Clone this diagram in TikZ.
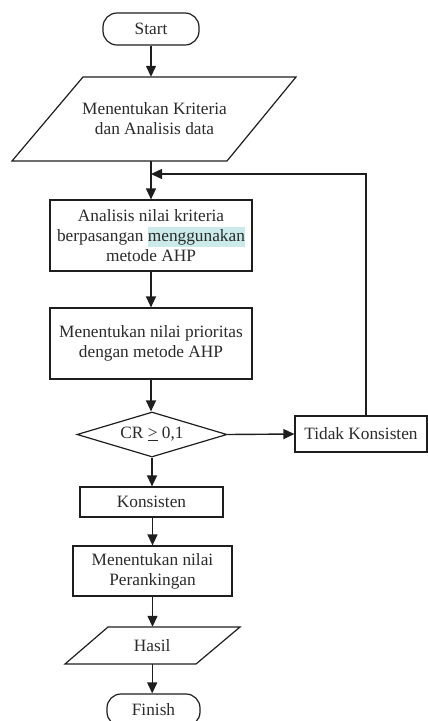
\documentclass[tikz,border=0pt]{standalone}
\usepackage{fontspec}
\setmainfont{Liberation Serif}
\usetikzlibrary{arrows.meta,shapes.geometric}
\definecolor{ln}{HTML}{1E1E1E}
\definecolor{tx}{HTML}{2A2A2A}
\definecolor{hl}{HTML}{CBEBEB}
\setlength{\fboxsep}{0pt}
\begin{document}
\begin{tikzpicture}[x=1pt,y=-1pt,
  every node/.style={font=\fontsize{17.3}{20}\selectfont, text=tx, align=center, inner sep=0pt},
  box/.style={draw=ln, line width=1.2pt, rectangle},
  term/.style={draw=ln, line width=1.2pt, rectangle, rounded corners=14pt, minimum height=32pt},
  dec/.style={draw=ln, line width=1.2pt, diamond, aspect=3.3, minimum width=150pt, minimum height=45pt},
  arr/.style={draw=ln, line width=1.4pt, -{Triangle[length=11pt,width=10pt]}},
  shp/.style={draw=ln, line width=1.2pt}]
\useasboundingbox (0,0) rectangle (428,721);

% shapes drawn directly (parallelograms)
\draw[shp] (83,77) -- (296,77) -- (227,161) -- (12,161) -- cycle;
\draw[shp] (108,627) -- (240,627) -- (196,664) -- (65,664) -- cycle;

\node[term, minimum width=96pt] (start) at (151,29) {Start};
\node[minimum height=84pt] (p1) at (154.5,119) {Menentukan Kriteria\\dan Analisis data};
\node[box, minimum width=202pt, minimum height=71pt] (a) at (151,235.5)
  {Analisis nilai kriteria\\berpasangan \colorbox{hl}{\strut menggunakan}\\metode AHP};
\node[box, minimum width=202pt, minimum height=71pt] (b) at (151,343.5)
  {Menentukan nilai prioritas\\dengan metode AHP};
\node[dec] (d) at (152,434.5) {CR \underline{>} 0,1};
\node[box, minimum width=132pt, minimum height=36pt] (tk) at (361,434) {Tidak Konsisten};
\node[box, minimum width=143pt, minimum height=30pt] (k) at (151.5,502) {Konsisten};
\node[box, minimum width=159pt, minimum height=50pt] (r) at (152.5,571) {Menentukan nilai\\Perankingan};
\node[minimum height=37pt] (h) at (152.2,645.5) {Hasil};
\node[term, minimum width=93pt, minimum height=32pt] (f) at (153.5,710) {Finish};

\coordinate (fb) at (366,174);

\draw[arr] (start.south) -- (start.south |- p1.north);
\draw[arr] (p1.south -| a.north) -- (a.north);
\draw[arr] (a.south) -- (b.north);
\draw[arr] (b.south) -- (b.south |- d.north);
\draw[arr] (d.east) -- (tk.west);
\draw[arr] (tk.north -| fb) -- (fb) -- (fb -| a.north);
\draw[arr] (d.south) -- (d.south |- k.north);
\draw[arr] (k.south -| r.north) -- (r.north);
\draw[arr] (r.south) -- (r.south |- h.north);
\draw[arr] (h.south) -- (h.south |- f.north);
\end{tikzpicture}
\end{document}
